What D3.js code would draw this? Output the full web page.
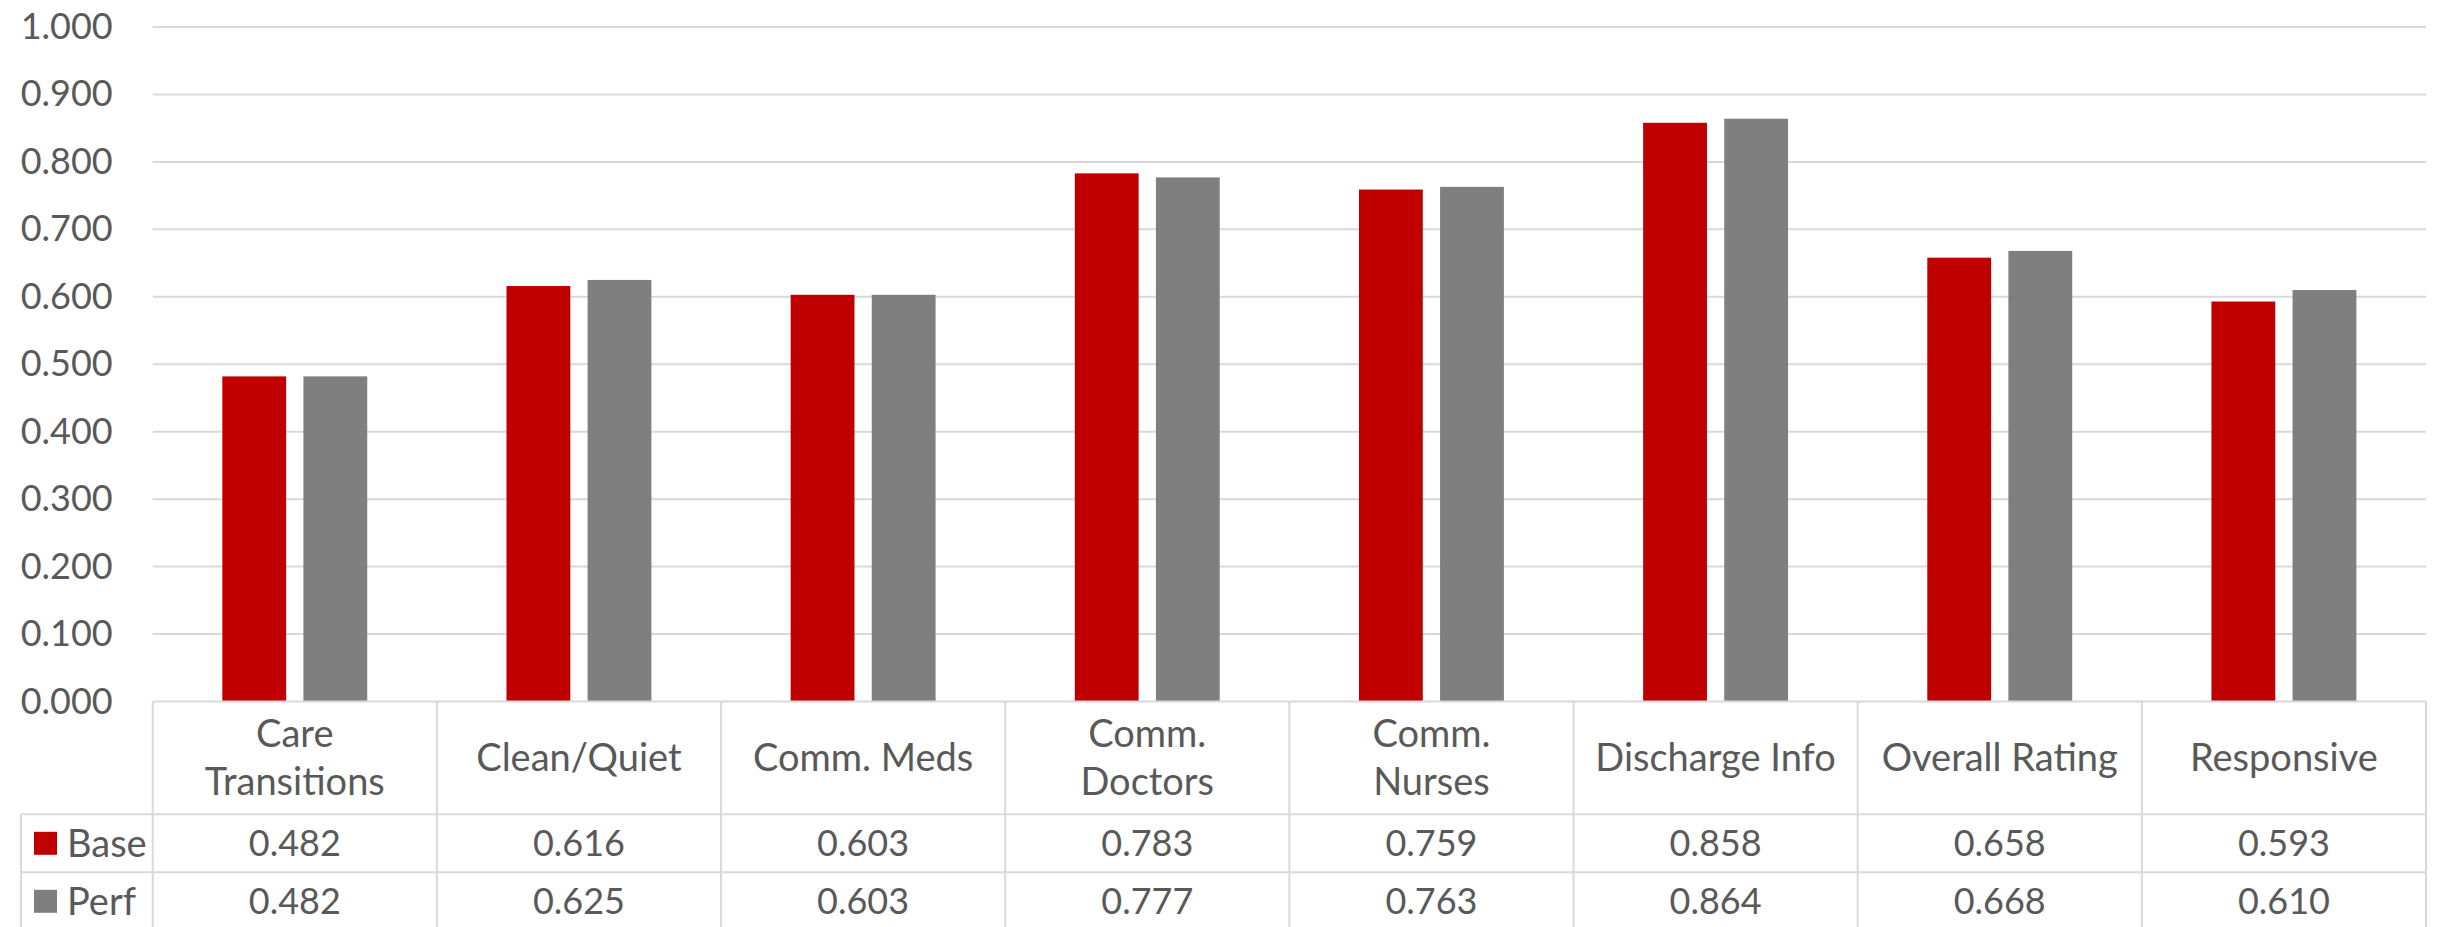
<!DOCTYPE html>
<html>
<head>
<meta charset="utf-8">
<script src="https://cdn.jsdelivr.net/npm/d3@7"></script>
<style>
  html, body { margin: 0; padding: 0; background: #fff; }
  svg text { font-family: Lato, "Open Sans", sans-serif; fill: #595959; }
</style>
</head>
<body>
<svg id="chart" width="2437" height="927"></svg>
<script>
// Survey domain scores, base vs. performance model
const categories = [
  ["Care", "Transitions"],
  ["Clean/Quiet"],
  ["Comm. Meds"],
  ["Comm.", "Doctors"],
  ["Comm.", "Nurses"],
  ["Discharge Info"],
  ["Overall Rating"],
  ["Responsive"]
];
const seriesNames = ["Base", "Perf"];
const baseValues = [0.482, 0.616, 0.603, 0.783, 0.759, 0.858, 0.658, 0.593];
const perfValues = [0.482, 0.625, 0.603, 0.777, 0.763, 0.864, 0.668, 0.610];
const yTicks = [0, 0.1, 0.2, 0.3, 0.4, 0.5, 0.6, 0.7, 0.8, 0.9, 1.0];

const colors = { Base: "#c00000", Perf: "#7f7f7f" };
const gridColor = "#d9d9d9";
const seriesValues = { Base: baseValues, Perf: perfValues };

const svg = d3.select("#chart");
const plotLeft = 152.7, plotRight = 2426, plotTop = 27, plotBottom = 701.5;
const legendLeft = 21;
const headerBottom = 814.3, baseRowBottom = 872.3, perfRowBottom = 930.3;
const numSize = 36, wordSize = 38;

const catIdx = categories.map((d, i) => i);
const x0 = d3.scaleBand().domain(catIdx).range([plotLeft, plotRight]).padding(0);
const bw = x0.bandwidth();
const x1 = d3.scaleBand().domain(seriesNames)
  .range([bw * 0.245, bw * 0.755]).paddingInner(0.213);
const y = d3.scaleLinear().domain([0, 1]).range([plotBottom, plotTop]);

// Horizontal gridlines and value axis
const yAxis = d3.axisLeft(y).tickValues(yTicks)
  .tickFormat(d3.format(".3f"))
  .tickSize(0).tickPadding(0);
const axisG = svg.append("g").attr("transform", `translate(${plotLeft - 40},0)`).call(yAxis);
axisG.select(".domain").remove();
axisG.selectAll("text").attr("font-size", numSize).attr("fill", "#595959")
  .style("font-family", "Lato, 'Open Sans', sans-serif");

svg.append("g").selectAll("line").data(yTicks.filter(d => d > 0)).join("line")
  .attr("x1", plotLeft).attr("x2", plotRight)
  .attr("y1", d => y(d)).attr("y2", d => y(d))
  .attr("stroke", gridColor).attr("stroke-width", 2);

// Bars
const groups = svg.append("g").selectAll("g").data(catIdx).join("g")
  .attr("transform", i => `translate(${x0(i)},0)`);
groups.selectAll("rect")
  .data(i => seriesNames.map(s => ({ s, v: seriesValues[s][i] })))
  .join("rect")
  .attr("x", d => x1(d.s))
  .attr("width", x1.bandwidth())
  .attr("y", d => y(d.v))
  .attr("height", d => y(0) - y(d.v))
  .attr("fill", d => colors[d.s]);

// Data table below the plot
const table = svg.append("g").attr("stroke", gridColor).attr("stroke-width", 2).attr("fill", "none");
table.append("line").attr("x1", plotLeft).attr("x2", plotRight).attr("y1", plotBottom).attr("y2", plotBottom);
[headerBottom, baseRowBottom, perfRowBottom].forEach(yy =>
  table.append("line").attr("x1", legendLeft).attr("x2", plotRight).attr("y1", yy).attr("y2", yy));
catIdx.concat([categories.length]).forEach(i => {
  const xx = i < categories.length ? x0(i) : plotRight;
  table.append("line").attr("x1", xx).attr("x2", xx).attr("y1", plotBottom).attr("y2", perfRowBottom);
});
table.append("line").attr("x1", legendLeft).attr("x2", legendLeft).attr("y1", headerBottom).attr("y2", perfRowBottom);

// Category headers
const headerMid = (plotBottom + headerBottom) / 2;
const lineGap = 48;
svg.append("g").selectAll("text").data(catIdx).join("text")
  .attr("x", i => x0(i) + bw / 2)
  .attr("text-anchor", "middle")
  .attr("font-size", wordSize)
  .each(function (i) {
    const lines = categories[i];
    const t = d3.select(this);
    lines.forEach((ln, k) => {
      t.append("tspan")
        .attr("x", x0(i) + bw / 2)
        .attr("y", headerMid + (k - (lines.length - 1) / 2) * lineGap)
        .attr("dy", "0.35em")
        .text(ln);
    });
  });

// Value rows with legend keys
const rowMids = { Base: (headerBottom + baseRowBottom) / 2, Perf: (baseRowBottom + perfRowBottom) / 2 };
seriesNames.forEach(s => {
  const ym = rowMids[s];
  svg.append("rect").attr("x", 34).attr("y", ym - 11.5).attr("width", 23).attr("height", 23)
    .attr("fill", colors[s]);
  svg.append("text").attr("x", 67).attr("y", ym).attr("dy", "0.35em")
    .attr("font-size", wordSize).text(s);
  svg.append("g").selectAll("text").data(catIdx).join("text")
    .attr("x", i => x0(i) + bw / 2).attr("y", ym).attr("dy", "0.35em")
    .attr("text-anchor", "middle").attr("font-size", numSize)
    .text(i => d3.format(".3f")(seriesValues[s][i]));
});
</script>
</body>
</html>
